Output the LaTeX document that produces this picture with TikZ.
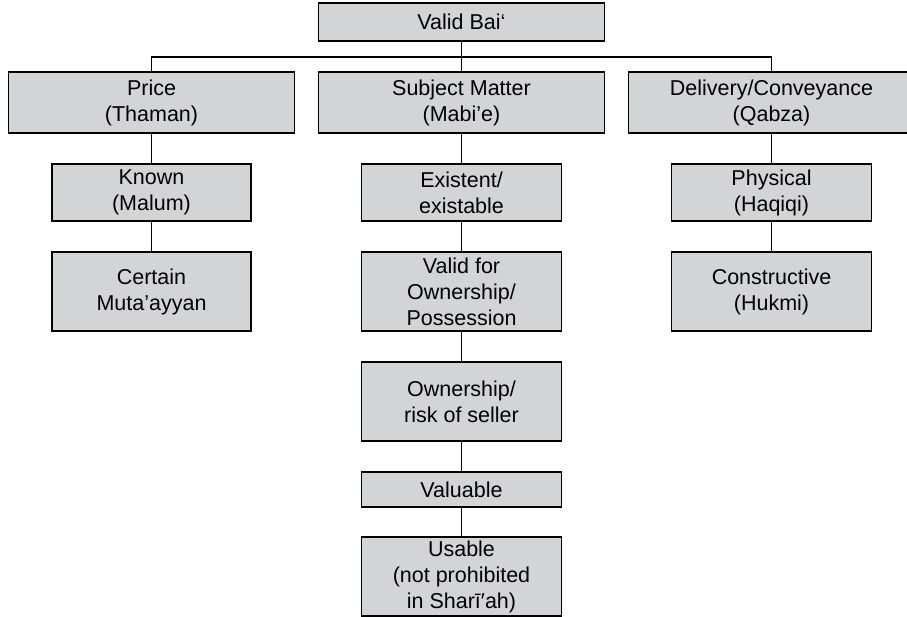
\documentclass[tikz,border=0pt]{standalone}
\usepackage{fontspec}
\setmainfont{Liberation Sans}
\definecolor{boxgray}{RGB}{211,212,214}
\begin{document}
\begin{tikzpicture}[x=1pt,y=-1pt,
  bx/.style={draw=black, line width=1.2pt, fill=boxgray, inner sep=0pt, align=center,
    font=\fontsize{21.5}{26}\selectfont, text=black},
  conn/.style={draw=black, line width=1.1pt}]
\useasboundingbox (0,0) rectangle (907,617);
% boxes: centre and size in pixels
\node[bx, minimum width=286, minimum height=38] (top) at (461.5,22) {Valid Bai‘};
\node[bx, minimum width=286, minimum height=61] (price) at (151.5,102.5) {Price\\(Thaman)};
\node[bx, minimum width=286, minimum height=61] (subj) at (461.5,102.5) {Subject Matter\\(Mabi’e)};
\node[bx, minimum width=286, minimum height=61] (deliv) at (771.5,102.5) {Delivery/Conveyance\\(Qabza)};
\node[bx, minimum width=199, minimum height=57] (known) at (151.5,192.5) {Known\\(Malum)};
\node[bx, minimum width=199, minimum height=79] (certain) at (151.5,291.5) {Certain\\Muta’ayyan};
\node[bx, minimum width=200, minimum height=57] (exist) at (461.5,192.5) {Existent/\\existable};
\node[bx, minimum width=200, minimum height=79] (validown) at (461.5,291.5) {Valid for\\Ownership/\\Possession};
\node[bx, minimum width=200, minimum height=79] (risk) at (461.5,401.5) {Ownership/\\risk of seller};
\node[bx, minimum width=200, minimum height=35] (valuable) at (461.5,489.5) {Valuable};
\node[bx, minimum width=200, minimum height=79] (usable) at (461.5,576.5) {Usable\\(not prohibited\\in Sharī′ah)};
\node[bx, minimum width=200, minimum height=57] (phys) at (771.5,192.5) {Physical\\(Haqiqi)};
\node[bx, minimum width=200, minimum height=79] (constr) at (771.5,291.5) {Constructive\\(Hukmi)};
% connectors
\coordinate (bus) at (461.5,57);
\draw[conn] (top.south) -- (top.south |- bus);
\draw[conn] (price.north) -- (price.north |- bus) -- (deliv.north |- bus) -- (deliv.north);
\draw[conn] (subj.north) -- (subj.north |- bus);
\draw[conn] (price.south) -- (known.north);
\draw[conn] (known.south) -- (certain.north);
\draw[conn] (subj.south) -- (exist.north);
\draw[conn] (exist.south) -- (validown.north);
\draw[conn] (validown.south) -- (risk.north);
\draw[conn] (risk.south) -- (valuable.north);
\draw[conn] (valuable.south) -- (usable.north);
\draw[conn] (deliv.south) -- (phys.north);
\draw[conn] (phys.south) -- (constr.north);
\end{tikzpicture}
\end{document}
